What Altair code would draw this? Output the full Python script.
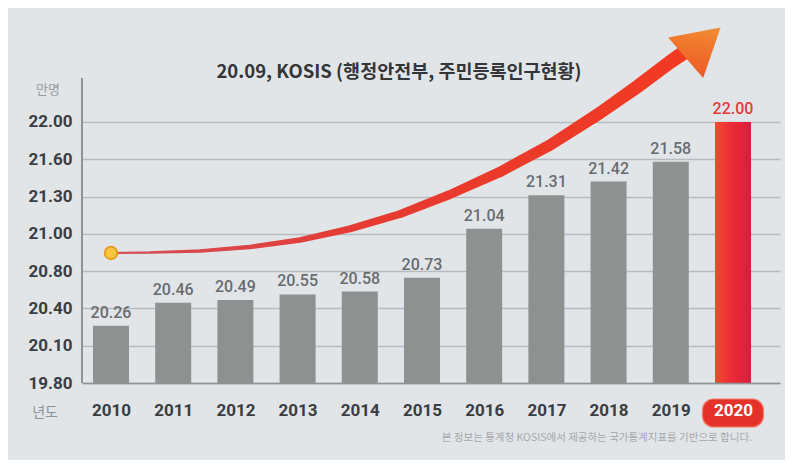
import altair as alt
import pandas as pd

# ---- data ----
years = list(range(2010, 2021))
values = [20.26, 20.46, 20.49, 20.55, 20.58, 20.73, 21.04, 21.31, 21.42, 21.58, 22.00]
y_ticks = [19.80, 20.10, 20.40, 20.80, 21.00, 21.30, 21.60, 22.00]
y_top = 22.40

# decorative trend arrow (in data units: year, value)
arrow_year = [2010.0, 2010.63, 2011.43, 2012.23, 2013.04, 2013.84, 2014.65, 2015.45,
              2016.25, 2017.06, 2017.86, 2018.50, 2018.99, 2019.36]
arrow_value = [20.897, 20.900, 20.908, 20.929, 20.967, 21.039, 21.159, 21.316,
               21.497, 21.752, 22.033, 22.137, 22.222, 22.281]
arrow_width = [2, 2.5, 3.5, 4.5, 5.5, 7, 8, 9, 10.5, 11.5, 12.5, 13.5, 14, 15]
head_year = [2019.52]
head_value = [22.294]

title_text = "20.09, KOSIS (행정안전부, 주민등록인구현황)"
unit_text = "만명"
xlab_text = "년도"
footer_text = "본 정보는 통계청 KOSIS에서 제공하는 국가통계지표를 기반으로 합니다."

# ---- layout ----
W, H = 698, 369
gap = 37.3
y_range = [H - gap * i for i in range(len(y_ticks))] + [0]

df = pd.DataFrame({"year": years, "value": values})
df_arrow = pd.DataFrame({"year": arrow_year, "value": arrow_value, "w": arrow_width})
df_head = pd.DataFrame({"year": head_year, "value": head_value})
df_dot = df_arrow.iloc[[0]]

x_scale = alt.Scale(domain=[2009.534, 2020.756], nice=False, zero=False, padding=0)
y_scale = alt.Scale(domain=y_ticks + [y_top], range=y_range, nice=False, zero=False)

FONT = "Roboto"
KFONT = "Noto Sans CJK KR"

x_enc = alt.X(
    "year:Q",
    scale=x_scale,
    axis=alt.Axis(
        values=years, format="d", title=None, grid=False, ticks=False,
        labelFont=FONT, labelFontSize=17, labelFontWeight="bold",
        labelColor={"condition": {"test": "datum.value == 2020", "value": "#ffffff"}, "value": "#3a3d42"},
        labelPadding=19, domainColor="#8e9296", domainWidth=1.5, zindex=1,
        labelFlush=False, labelOverlap=False,
    ),
)
y_enc = alt.Y(
    "value:Q",
    scale=y_scale,
    axis=alt.Axis(
        values=y_ticks, format=".2f", title=None, domain=False, ticks=False,
        labelFont=FONT, labelFontSize=17, labelFontWeight="bold", labelColor="#3a3d42",
        labelPadding=10, gridColor="#b6babe", gridWidth=1.3,
    ),
)

base = alt.Chart(df)

gray_bars = base.transform_filter("datum.year < 2020").mark_bar(
    orient="vertical", size=36, color="#8d9291"
).encode(x=x_enc, y=y_enc, y2=alt.datum(19.80))

red_bar = base.transform_filter("datum.year == 2020").mark_bar(
    orient="vertical", size=36,
    color=alt.Gradient(
        gradient="linear", x1=0, x2=1, y1=0, y2=0,
        stops=[alt.GradientStop(color="#f24a30", offset=0),
               alt.GradientStop(color="#ea2a36", offset=0.5),
               alt.GradientStop(color="#d81c40", offset=1)],
    ),
).encode(x=x_enc, y=y_enc, y2=alt.datum(19.80))

labels = base.mark_text(
    baseline="bottom", dy=-5, font=FONT, fontSize=16, fontWeight=500
).encode(
    x=x_enc, y=y_enc,
    text=alt.Text("value:Q", format=".2f"),
    color=alt.condition("datum.year == 2020", alt.value("#e8383a"), alt.value("#676c70")),
)

pill = base.transform_filter("datum.year == 2020").transform_calculate(
    x0="datum.year - 0.49", x1="datum.year + 0.49"
).mark_rect(cornerRadius=11, color="#e4322b", stroke="#f47a66", strokeWidth=1.2).encode(
    x=alt.X("x0:Q", scale=x_scale), x2="x1:Q",
    y=alt.value(385), y2=alt.value(413),
)

y_line = base.mark_rule(color="#8e9296", strokeWidth=1.5).encode(
    x=alt.value(0), y=alt.value(64), y2=alt.value(H)
)

trail = alt.Chart(df_arrow).mark_trail(
    color=alt.Gradient(
        gradient="linear", x1=0, x2=1, y1=0, y2=0,
        stops=[alt.GradientStop(color="#d2505a", offset=0),
               alt.GradientStop(color="#e63a30", offset=0.45),
               alt.GradientStop(color="#f23a22", offset=1)],
    )
).encode(
    x=alt.X("year:Q", scale=x_scale),
    y=alt.Y("value:Q", scale=y_scale),
    size=alt.Size("w:Q", scale=None, legend=None),
)

head = alt.Chart(df_head).mark_point(
    shape="triangle-up", size=2850, angle=49, filled=True, opacity=1, strokeWidth=0,
    fill=alt.Gradient(
        gradient="linear", x1=0, x2=1, y1=0, y2=1,
        stops=[alt.GradientStop(color="#f5a23a", offset=0),
               alt.GradientStop(color="#f07a2c", offset=0.5),
               alt.GradientStop(color="#ec5a28", offset=1)],
    ),
).encode(x=alt.X("year:Q", scale=x_scale), y=alt.Y("value:Q", scale=y_scale))

dot = alt.Chart(df_dot).mark_point(
    shape="circle", size=160, filled=True, fill="#f8c63c", stroke="#e59a1e", strokeWidth=1.8, opacity=1
).encode(x=alt.X("year:Q", scale=x_scale), y=alt.Y("value:Q", scale=y_scale))

txt = pd.DataFrame({"t": [title_text], "u": [unit_text], "x": [xlab_text], "f": [footer_text]})
title = alt.Chart(txt).mark_text(
    font=KFONT, fontSize=18.5, fontWeight="bold", color="#333538", align="center", baseline="middle"
).encode(text="t:N", x=alt.value(317), y=alt.value(58))
unit = alt.Chart(txt).mark_text(
    font=KFONT, fontSize=13, color="#979ba0", align="center", baseline="middle"
).encode(text="u:N", x=alt.value(-34), y=alt.value(76))
xlab = alt.Chart(txt).mark_text(
    font=KFONT, fontSize=14, color="#8e9297", align="center", baseline="middle"
).encode(text="x:N", x=alt.value(-37), y=alt.value(399))
footer = alt.Chart(txt).mark_text(
    font=KFONT, fontSize=10.5, color="#a4a8ad", align="right", baseline="middle"
).encode(text="f:N", x=alt.value(670), y=alt.value(424))

chart = alt.layer(
    gray_bars, red_bar, y_line, pill, labels, trail, head, dot, title, unit, xlab, footer
).properties(
    width=W, height=H,
    padding={"left": 74, "top": 6, "right": 5, "bottom": 77},
    autosize=alt.AutoSizeParams(type="none"),
    background="#e2e5e8",
).configure_view(stroke=None)

chart.save("out.html", embed_options={"renderer": "svg", "actions": False})
